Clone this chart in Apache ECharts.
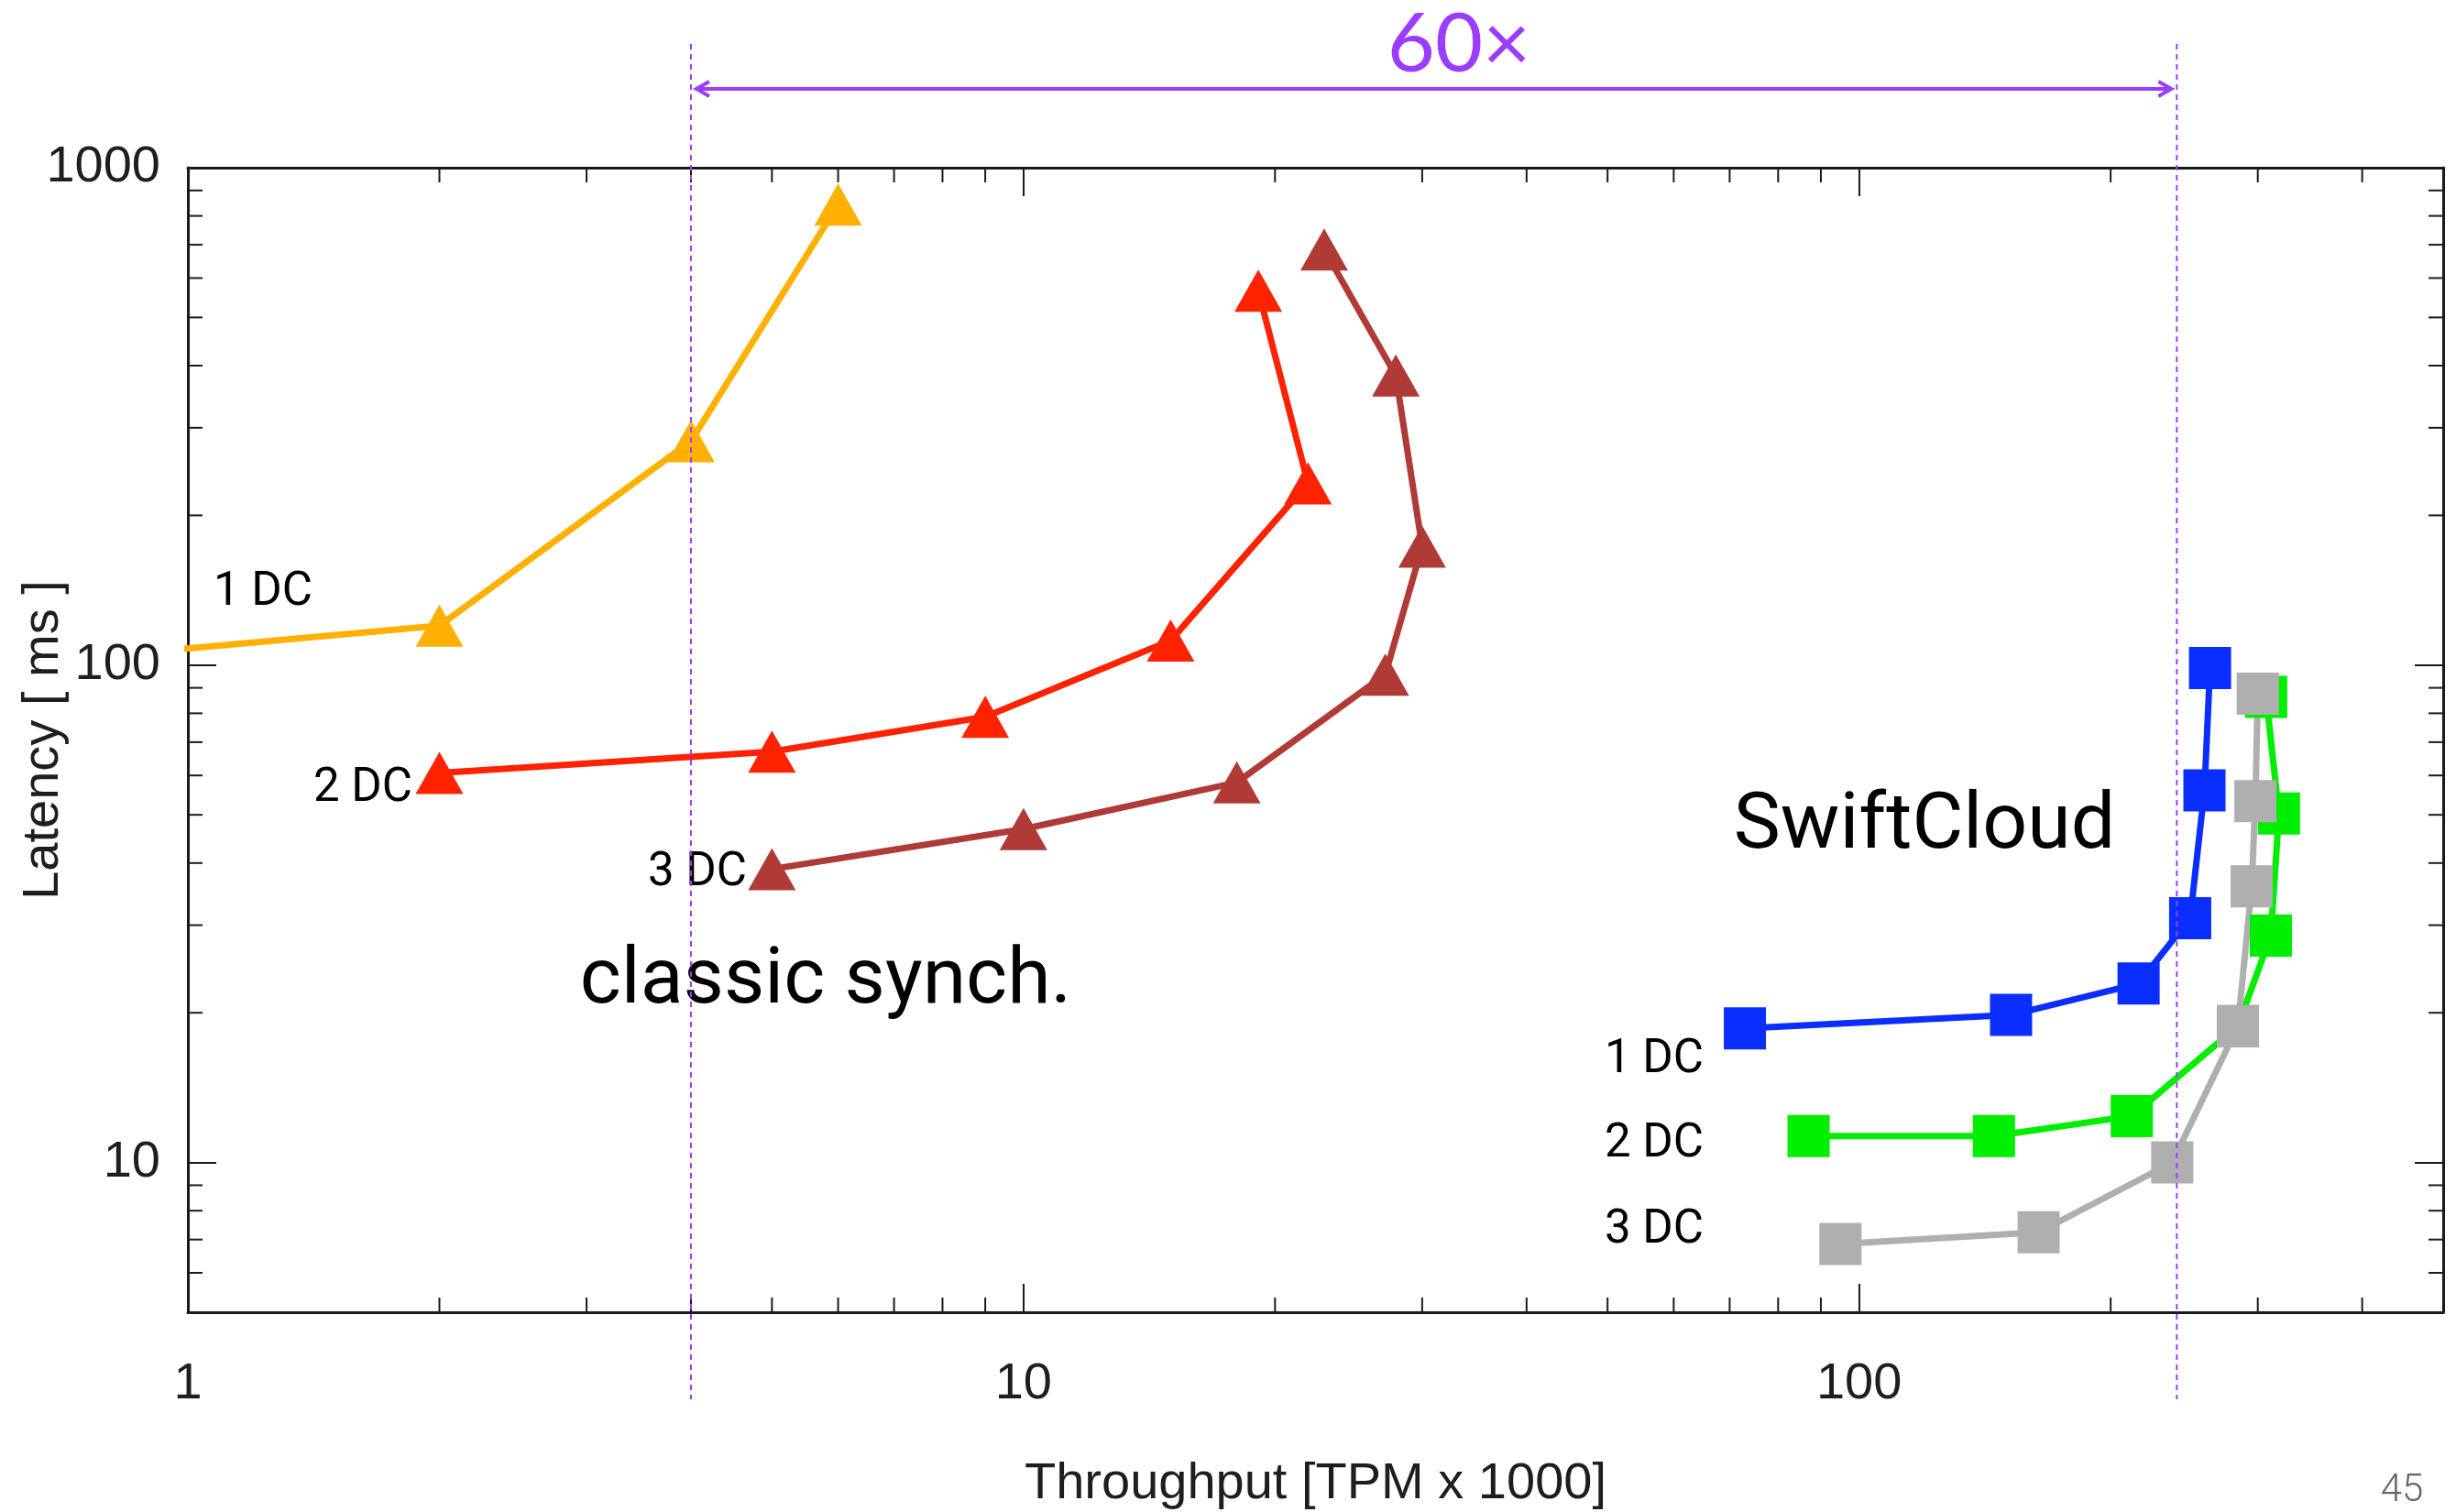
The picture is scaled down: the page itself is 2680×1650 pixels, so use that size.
<!DOCTYPE html>
<html><head><meta charset="utf-8">
<script src="https://cdn.jsdelivr.net/npm/echarts@6/dist/echarts.min.js"></script>
<style>html,body{margin:0;padding:0;background:#fff;} #c{width:2680px;height:1650px;}</style>
</head><body><div id="c"></div>
<script>
// ---- tick labels / ticks ----
const xMajorLabels = [1, 10, 100];
const yMajorLabels = [10, 100, 1000];
const xMinorTicks = [2,3,4,5,6,7,8,9,20,30,40,50,60,70,80,90,200,300,400];
const yMinorTicks = [6,7,8,9,20,30,40,50,60,70,80,90,200,300,400,500,600,700,800,900];
const xRange = [1, 500];
const yRange = [5, 1000];

// ---- series values: [throughput (TPM x 1000), latency (ms)] ----
const classic1DC = [[0.6,100],[2,120],[4,282],[6,843]];
const classic2DC = [[2,60.7],[5,67],[9,78.7],[15,112],[21.9,232],[19.1,566]];
const classic3DC = [[5,38.9],[10,46.8],[18,58.1],[27.1,95.7],[30,173],[27.9,382],[22.9,685]];
const swift1DC = [[73,18.6],[152,19.8],[216,22.9],[249,31],[259,56],[263,98.6]];
const swift2DC = [[87,11.3],[145,11.3],[212,12.4],[284,18.8],[311,28.6],[318,50.3],[307,86.3]];
const swift3DC = [[95,6.86],[164,7.24],[237,10],[284,18.8],[295,35.9],[298,53.3],[300,87.6]];
const speedupFrom = 4, speedupTo = 240;
const speedupLabel = '60×';

const chart = echarts.init(document.getElementById('c'), null, {renderer:'canvas'});
const AX = '#1a1a1a';
const isPow10 = v => Math.abs(Math.log10(v) - Math.round(Math.log10(v))) < 1e-6;
const labelFmt = list => v => (isPow10(v) && list.some(t => Math.abs(t - v) < 1e-6 * t)) ? String(Math.round(v)) : '';
const baseFont = {fontFamily:'Liberation Sans', fontSize:56, color:'#1e1e1e'};

function xAxisDef(pos, show) {
  return {type:'log', logBase:10, min:xRange[0], max:xRange[1], position:pos,
    axisLine:{show:true, onZero:false, lineStyle:{color:AX, width:3}},
    axisTick:{show:true, inside:true, length:31, lineStyle:{color:AX, width:2}},
    minorTick:{show:false}, splitLine:{show:false},
    axisLabel:{show:show, formatter:labelFmt(xMajorLabels), margin:51, showMinLabel:true, showMaxLabel:true, ...baseFont},
    name: show ? 'Throughput [TPM x 1000]' : '', nameLocation:'middle', nameGap:160, nameMoveOverlap:false,
    nameTextStyle:{...baseFont}};
}
function yAxisDef(pos, show) {
  return {type:'log', logBase:10, min:yRange[0], max:yRange[1], position:pos,
    axisLine:{show:true, onZero:false, lineStyle:{color:AX, width:3}},
    axisTick:{show:true, inside:true, length:31, lineStyle:{color:AX, width:2}},
    minorTick:{show:false}, splitLine:{show:false},
    axisLabel:{show:show, formatter:labelFmt(yMajorLabels), margin:30, showMinLabel:true, showMaxLabel:true, ...baseFont},
    name: show ? 'Latency [ ms ]' : '', nameLocation:'middle', nameGap:129, nameRotate:90, nameMoveOverlap:false,
    nameTextStyle:{...baseFont}};
}

function lineSeries(name, data, color, symbol, size) {
  return {name, type:'line', data, xAxisIndex:0, yAxisIndex:0, clip:true,
    symbol, symbolSize:size, showSymbol:true, showAllSymbol:true,
    lineStyle:{color, width:7}, itemStyle:{color}, emphasis:{disabled:true}, animation:false};
}
const TRI = [52,46], SQ = 46;

function minorSeries(values, axis) {
  return {type:'custom', coordinateSystem:'cartesian2d', xAxisIndex:0, yAxisIndex:0, clip:false, silent:true, z:6,
    data: values.map(v => axis === 'x' ? [v, yRange[0]] : [xRange[0], v]),
    renderItem: (params, api) => {
      const st = {stroke:AX, lineWidth:2};
      if (axis === 'x') {
        const v = api.value(0);
        const b = api.coord([v, yRange[0]]), t = api.coord([v, yRange[1]]);
        return {type:'group', children:[
          {type:'line', shape:{x1:b[0], y1:b[1], x2:b[0], y2:b[1]-16}, style:st},
          {type:'line', shape:{x1:t[0], y1:t[1], x2:t[0], y2:t[1]+16}, style:st}]};
      } else {
        const v = api.value(1);
        const l = api.coord([xRange[0], v]), r = api.coord([xRange[1], v]);
        return {type:'group', children:[
          {type:'line', shape:{x1:l[0], y1:l[1], x2:l[0]+16, y2:l[1]}, style:st},
          {type:'line', shape:{x1:r[0], y1:r[1], x2:r[0]-16, y2:r[1]}, style:st}]};
      }
    }};
}

chart.setOption({
  animation:false,
  backgroundColor:'#ffffff',
  grid:{left:205, right:14, top:183, bottom:218, containLabel:false, outerBoundsMode:'none'},
  xAxis:[xAxisDef('bottom', true), xAxisDef('top', false)],
  yAxis:[yAxisDef('left', true), yAxisDef('right', false)],
  series:[
    minorSeries(xMinorTicks, 'x'),
    minorSeries(yMinorTicks, 'y'),
    lineSeries('classic 1 DC', classic1DC, '#FFB000', 'triangle', TRI),
    lineSeries('classic 2 DC', classic2DC, '#FF2200', 'triangle', TRI),
    lineSeries('classic 3 DC', classic3DC, '#B03A36', 'triangle', TRI),
    lineSeries('SwiftCloud 1 DC', swift1DC, '#0A2EFF', 'rect', SQ),
    lineSeries('SwiftCloud 2 DC', swift2DC, '#00EE00', 'rect', SQ),
    lineSeries('SwiftCloud 3 DC', swift3DC, '#AFAFAF', 'rect', SQ)
  ]
});

// ---- annotations ----
const xA = chart.convertToPixel({xAxisIndex:0}, speedupFrom);
const xB = chart.convertToPixel({xAxisIndex:0}, speedupTo);
const PURPLE = '#9B3DFF';
const annFont = {fontFamily:'Roboto', fill:'#000'};
function txt(text, x, y, size, extra) {
  return {type:'text', x, y, z:50, style:{text, fontSize:size, textAlign:'center', textVerticalAlign:'middle', ...annFont, ...(extra||{})}};
}
const arrowY = 97;
chart.setOption({graphic:[
  txt('1 DC', 287, 647, 51),
  txt('2 DC', 396, 861, 51),
  txt('3 DC', 761, 953, 51),
  txt('classic synch.', 901, 1072, 86),
  txt('SwiftCloud', 2100, 903, 86),
  txt('1 DC', 1805, 1157, 51),
  txt('2 DC', 1805, 1249, 51),
  txt('3 DC', 1805, 1343, 51),
  txt(speedupLabel, 1592, 49, 90, {fill:PURPLE, fontFamily:'Lato'}),
  txt('45', 2621, 1627, 42, {fill:'#666', fontWeight:300}),
  {type:'line', z:60, shape:{x1:xA, y1:48, x2:xA, y2:1527}, style:{stroke:PURPLE, lineWidth:2, lineDash:[6,5]}},
  {type:'line', z:60, shape:{x1:xB, y1:48, x2:xB, y2:1527}, style:{stroke:PURPLE, lineWidth:2, lineDash:[6,5]}},
  {type:'line', z:60, shape:{x1:xA+6, y1:arrowY, x2:xB-6, y2:arrowY}, style:{stroke:PURPLE, lineWidth:4}},
  {type:'polyline', z:60, shape:{points:[[xA+20, arrowY-8],[xA+6, arrowY],[xA+20, arrowY+8]]}, style:{stroke:PURPLE, lineWidth:4, fill:null}},
  {type:'polyline', z:60, shape:{points:[[xB-20, arrowY-8],[xB-6, arrowY],[xB-20, arrowY+8]]}, style:{stroke:PURPLE, lineWidth:4, fill:null}}
]});
</script>
</body></html>
